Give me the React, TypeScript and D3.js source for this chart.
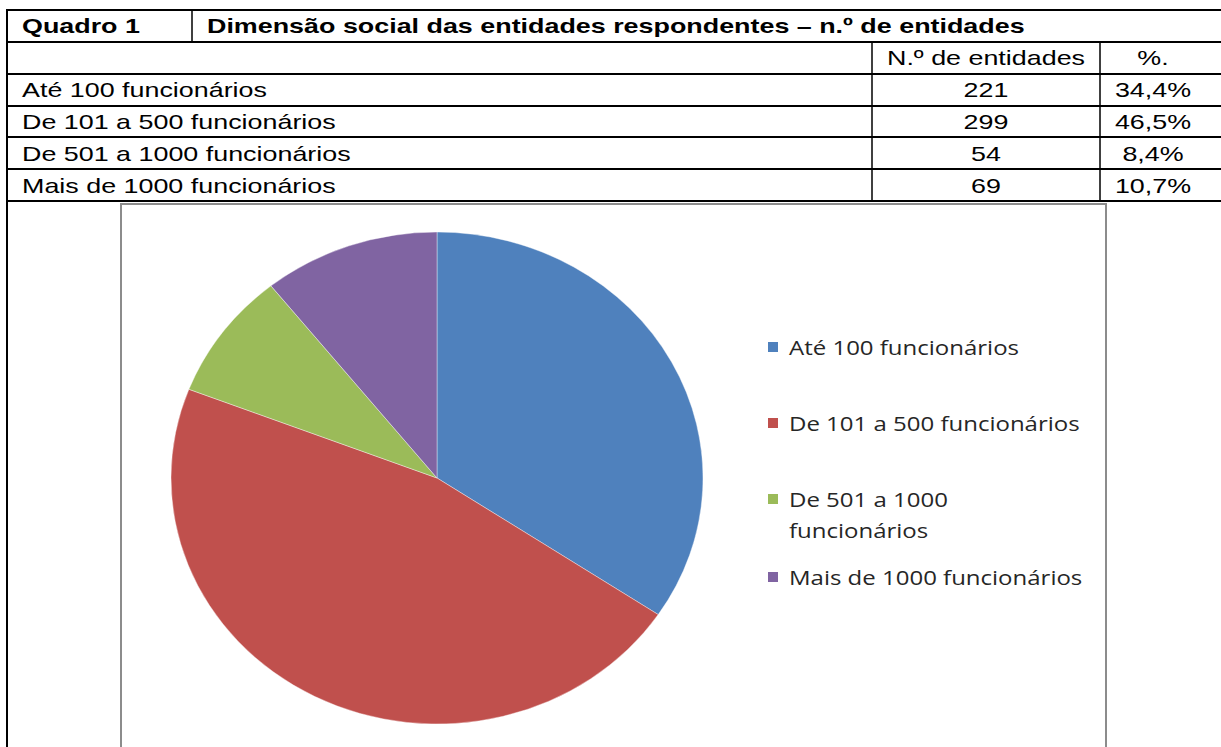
import React from "react";
import * as d3 from "d3";

const categories = [
  "Até 100 funcionários",
  "De 101 a 500 funcionários",
  "De 501 a 1000 funcionários",
  "Mais de 1000 funcionários",
];
const counts = [221, 299, 54, 69];
const percents = ["34,4%", "46,5%", "8,4%", "10,7%"];
const legendLines = [
  ["Até 100 funcionários"],
  ["De 101 a 500 funcionários"],
  ["De 501 a 1000", "funcionários"],
  ["Mais de 1000 funcionários"],
];
const colors = ["#4F81BD", "#C0504D", "#9BBB59", "#8064A2"];
const title = "Dimensão social das entidades respondentes – n.º de entidades";
const quadro = "Quadro 1";
const headerCount = "N.º de entidades";
const headerPct = "%.";

function SText({ x, y, sx, anchor, children, ...rest }: any) {
  return (
    <g transform={`translate(${x},${y}) scale(${sx},1)`}>
      <text x={0} y={0} textAnchor={anchor || "start"} {...rest}>{children}</text>
    </g>
  );
}

export default function App() {
  const W = 1221, H = 747;
  const tableLeft = 7, tableRight = 1230;
  const rowLines = [10, 42, 74, 106, 137, 169, 201];
  const col1 = 192, col2 = 872, col3 = 1100;
  const font = "'Liberation Sans', Arial, sans-serif";
  const fs = 21;
  const sx = 1.28;

  const cx = 437, cy = 478, rx = 266, ry = 246;
  const pie = d3.pie<number>().sort(null).value((d) => d)(counts);
  const arc = d3.arc<d3.PieArcDatum<number>>().innerRadius(0).outerRadius(rx);

  const legendY = [348, 424, 500, 578];
  const lfont = "'Open Sans', sans-serif";

  return (
    <svg width={W} height={H} style={{ position: "absolute", left: 0, top: 0, background: "#fff" }}>
      <rect x={0} y={0} width={W} height={H} fill="#fff" />
      {/* chart frame */}
      <rect x={121} y={204} width={985} height={600} fill="#fff" stroke="#8c8c8c" strokeWidth={2} />
      {/* pie */}
      <g transform={`translate(${cx},${cy}) scale(1,${ry / rx})`}>
        {pie.map((p, i) => (
          <path key={i} d={arc(p) || ""} fill={colors[i]} stroke="#ffffff" strokeOpacity={0.5} strokeWidth={0.8} />
        ))}
      </g>
      {/* legend */}
      {legendLines.map((lines, i) => (
        <g key={i}>
          <rect x={768} y={legendY[i] - 6} width={10} height={10} fill={colors[i]} />
          {lines.map((t, j) => (
            <SText key={j} x={789} y={legendY[i] + 7 + j * 31} sx={1.2} fontFamily={lfont} fontSize={20} fill="#262626">{t}</SText>
          ))}
        </g>
      ))}
      {/* table lines */}
      {rowLines.map((y, i) => (
        <line key={i} x1={tableLeft} x2={tableRight} y1={y} y2={y} stroke="#000" strokeWidth={2} />
      ))}
      <line x1={tableLeft} x2={tableLeft} y1={9} y2={H} stroke="#000" strokeWidth={2} />
      <line x1={col1} x2={col1} y1={10} y2={42} stroke="#000" strokeWidth={1.5} />
      <line x1={col2} x2={col2} y1={42} y2={201} stroke="#000" strokeWidth={1.5} />
      <line x1={col3} x2={col3} y1={42} y2={201} stroke="#000" strokeWidth={1.5} />
      {/* table text */}
      <SText x={22} y={33} sx={sx} fontFamily={font} fontWeight="bold" fontSize={fs}>{quadro}</SText>
      <SText x={207} y={33} sx={sx} fontFamily={font} fontWeight="bold" fontSize={fs}>{title}</SText>
      <SText x={(col2 + col3) / 2} y={65} sx={sx} anchor="middle" fontFamily={font} fontSize={fs}>{headerCount}</SText>
      <SText x={1153} y={65} sx={sx} anchor="middle" fontFamily={font} fontSize={fs}>{headerPct}</SText>
      {categories.map((c, i) => (
        <g key={i}>
          <SText x={22} y={97 + i * 32} sx={sx} fontFamily={font} fontSize={fs}>{c}</SText>
          <SText x={(col2 + col3) / 2} y={97 + i * 32} sx={sx} anchor="middle" fontFamily={font} fontSize={fs}>{counts[i]}</SText>
          <SText x={1153} y={97 + i * 32} sx={sx} anchor="middle" fontFamily={font} fontSize={fs}>{percents[i]}</SText>
        </g>
      ))}
    </svg>
  );
}
